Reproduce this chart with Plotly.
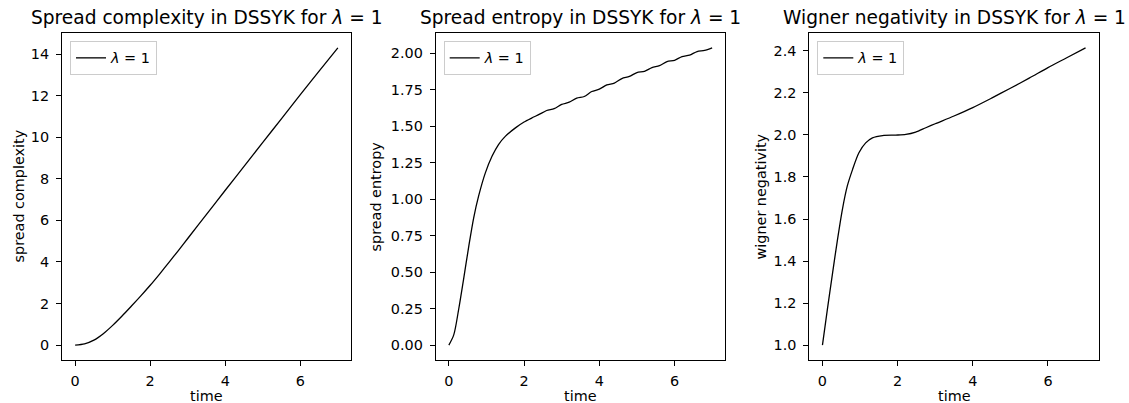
import plotly.graph_objects as go

# ---------------- data ----------------
t_complexity = [0, 0.25, 0.5, 0.75, 1.0, 1.25, 1.5, 1.75, 2.0, 2.25, 2.5, 2.75, 3.0, 3.5, 4.0, 4.5, 5.0, 5.5, 6.0, 6.5, 7.0]
spread_complexity = [0, 0.06, 0.24, 0.55, 0.95, 1.40, 1.88, 2.37, 2.88, 3.42, 3.98, 4.55, 5.13, 6.29, 7.45, 8.60, 9.75, 10.90, 12.05, 13.18, 14.3]

t_entropy = [0, 0.13, 0.26, 0.39, 0.53, 0.66, 0.79, 0.97, 1.15, 1.32, 1.5, 1.77,
             2.0, 2.2, 2.4, 2.6, 2.8, 3.0, 3.2, 3.4, 3.6, 3.8, 4.0, 4.2, 4.4, 4.6, 4.8,
             5.0, 5.2, 5.4, 5.6, 5.8, 6.0, 6.2, 6.4, 6.6, 6.8, 7.0]
spread_entropy = [0, 0.07, 0.244, 0.449, 0.678, 0.872, 1.02, 1.18, 1.295, 1.374, 1.43, 1.488,
                  1.528, 1.555, 1.58, 1.607, 1.620, 1.649, 1.664, 1.692, 1.703, 1.737, 1.753, 1.782, 1.795, 1.826, 1.840,
                  1.867, 1.875, 1.901, 1.914, 1.942, 1.951, 1.976, 1.986, 2.011, 2.018, 2.036]

t_wigner = [0, 0.13, 0.27, 0.4, 0.53, 0.66, 0.8, 0.97, 1.15, 1.33, 1.6, 1.95, 2.22, 2.48, 2.75,
            3.0, 3.5, 4.0, 4.5, 5.0, 5.5, 6.0, 6.5, 7.0]
wigner_negativity = [1.0, 1.169, 1.344, 1.502, 1.645, 1.756, 1.835, 1.915, 1.962, 1.986, 1.997, 1.999, 2.002, 2.013, 2.034,
                     2.053, 2.090, 2.130, 2.175, 2.222, 2.270, 2.320, 2.367, 2.414]

x_ticks = [0, 2, 4, 6]
y1_ticks = [0, 2, 4, 6, 8, 10, 12, 14]
y2_ticks = [0.0, 0.25, 0.5, 0.75, 1.0, 1.25, 1.5, 1.75, 2.0]
y3_ticks = [1.0, 1.2, 1.4, 1.6, 1.8, 2.0, 2.2, 2.4]

titles = ["Spread complexity in DSSYK for <i>λ</i> = 1",
          "Spread entropy in DSSYK for <i>λ</i> = 1",
          "Wigner negativity in DSSYK for <i>λ</i> = 1"]
ylabels = ["spread complexity", "spread entropy", "wigner negativity"]
series_name = "<i>λ</i> = 1"

# ---------------- layout geometry ----------------
W, H = 1129, 403
FONT = "DejaVu Sans"
FS = 14.4
panels_px = [(62, 351), (435.7, 725.3), (809.3, 1098.7)]
top_px, bot_px = 33, 360
ydom = [(H - bot_px) / H, (H - top_px) / H]

fig = go.Figure()
datasets = [(t_complexity, spread_complexity), (t_entropy, spread_entropy), (t_wigner, wigner_negativity)]
for i, (tx, ty) in enumerate(datasets):
    suffix = "" if i == 0 else str(i + 1)
    fig.add_trace(go.Scatter(
        x=tx, y=ty, mode="lines", name=series_name,
        line=dict(color="black", width=1.3, shape="spline", smoothing=0.8),
        xaxis="x" + suffix, yaxis="y" + suffix,
        legend="legend" + suffix, showlegend=True,
    ))

def yrange(vals):
    lo, hi = min(vals), max(vals)
    pad = 0.05 * (hi - lo)
    return [lo - pad, hi + pad]

yranges = [yrange(spread_complexity), yrange(spread_entropy), yrange(wigner_negativity)]
yticksets = [(y1_ticks, "d"), (y2_ticks, ".2f"), (y3_ticks, ".1f")]

axis_common = dict(
    showline=True, mirror=True, linecolor="black", linewidth=1,
    ticks="outside", ticklen=5, tickwidth=1, tickcolor="black",
    showgrid=False, zeroline=False, automargin=False,
    tickfont=dict(family=FONT, size=FS, color="black"),
)

layout = dict(
    width=W, height=H,
    margin=dict(l=0, r=0, t=0, b=0),
    paper_bgcolor="white", plot_bgcolor="white",
    font=dict(family=FONT, color="black"),
    annotations=[],
)

legend_x_px = [70, 443.7, 817.3]
for i in range(3):
    suffix = "" if i == 0 else str(i + 1)
    x0, x1 = panels_px[i]
    xd = [x0 / W, x1 / W]
    layout["xaxis" + suffix] = dict(
        axis_common, domain=xd, anchor="y" + suffix,
        range=[-0.35, 7.35], tickvals=x_ticks, ticklabelstandoff=3,
    )
    tv, fmt = yticksets[i]
    layout["yaxis" + suffix] = dict(
        axis_common, domain=ydom, anchor="x" + suffix,
        range=yranges[i], tickvals=tv, tickformat=fmt, ticklabelstandoff=4,
    )
    layout["legend" + suffix] = dict(
        x=legend_x_px[i] / W, y=(H - 41) / H, xanchor="left", yanchor="top",
        bgcolor="rgba(255,255,255,0.8)", bordercolor="#cccccc", borderwidth=1,
        font=dict(family=FONT, size=FS, color="black"),
        tracegroupgap=0, itemwidth=30,
    )
    cx = (x0 + x1) / 2 / W
    layout["annotations"].append(dict(
        text=titles[i], x=cx, y=(H - 18) / H, xref="paper", yref="paper",
        xanchor="center", yanchor="middle", showarrow=False,
        font=dict(family=FONT, size=18.6, color="black"),
    ))
    layout["annotations"].append(dict(
        text="time", x=cx, y=0.0, xref="paper", yref="paper",
        xanchor="center", yanchor="bottom", showarrow=False, yshift=-2, borderpad=0,
        font=dict(family=FONT, size=FS, color="black"),
    ))

ylabel_x_px = [18, 375, 760]
for i in range(3):
    layout["annotations"].append(dict(
        text=ylabels[i], x=ylabel_x_px[i] / W, y=sum(ydom) / 2, xref="paper", yref="paper",
        xanchor="center", yanchor="middle", showarrow=False, textangle=-90,
        font=dict(family=FONT, size=FS, color="black"),
    ))

fig.update_layout(**layout)
fig.write_html("out.html")
